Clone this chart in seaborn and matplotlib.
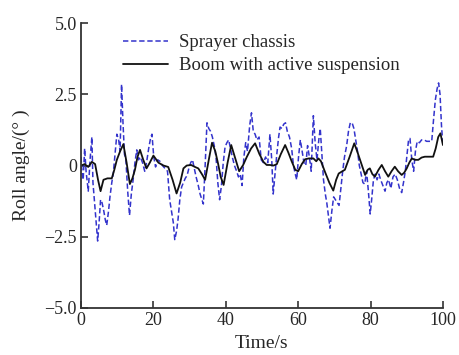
import matplotlib
matplotlib.use("Agg")
import matplotlib.pyplot as plt
import numpy as np
import pandas as pd
import seaborn as sns

# Sprayer chassis roll angle
chassis_t = [0, 0.3, 0.6, 1.0, 1.4, 2.0, 2.5, 3.0, 3.3, 3.8, 4.3, 4.6, 5.0, 5.4, 5.8,
             6.3, 6.7, 7.1, 7.6, 8.0, 8.5, 8.9, 9.4, 9.9, 10.4, 10.8, 11.2, 11.6, 12.0,
             12.4, 12.9, 13.4, 13.9, 14.4, 14.9, 15.4, 15.9, 16.4, 17.0, 17.6, 18.1,
             18.7, 19.2, 19.6, 20.1, 20.6, 21.2, 21.8, 22.5, 23.2, 23.9, 24.5, 25.0,
             25.5, 25.9, 26.4, 26.8, 27.3, 27.8, 28.3, 28.8, 29.3, 29.8, 30.3, 30.8,
             31.3, 31.8, 32.4, 32.9, 33.4, 33.8, 34.3, 34.8, 35.3, 35.8, 36.3, 36.8,
             37.3, 37.8, 38.3, 38.8, 39.3, 39.8, 40.3, 40.8, 41.3, 41.8, 42.4, 43.0,
             43.5, 44.0, 44.5, 45.0, 45.5, 46.0, 46.6, 47.1, 47.6, 48.1, 48.6, 49.2,
             49.8, 50.4, 51.0, 51.6, 52.2, 52.7, 53.1, 53.6, 54.1, 54.6, 55.0, 55.5,
             56.0, 56.5, 57.0, 57.6, 58.2, 58.7, 59.2, 59.6, 60.1, 60.6, 61.1, 61.6,
             62.1, 62.6, 63.1, 63.6, 64.2, 64.7, 65.2, 65.7, 66.1, 66.6, 67.0, 67.5,
             67.9, 68.4, 68.8, 69.3, 69.8, 70.3, 70.8, 71.3, 71.8, 72.3, 72.8, 73.4,
             73.9, 74.4, 74.9, 75.4, 75.9, 76.4, 76.9, 77.4, 77.9, 78.4, 78.9, 79.4,
             79.9, 80.3, 80.8, 81.3, 81.8, 82.3, 82.8, 83.4, 84.0, 84.5, 85.0, 85.6,
             86.2, 86.8, 87.4, 88.0, 88.6, 89.1, 89.6, 90.1, 90.5, 90.9, 91.4, 91.9,
             92.4, 92.9, 93.5, 94.1, 94.8, 95.5, 96.2, 96.9, 97.4, 97.9, 98.4, 98.8,
             99.2, 99.6, 100]
chassis_roll = [0.3, -0.3, -0.5, 0.6, -0.2, -0.9, 0.2, 1.0, -0.6, -1.4, -2.2, -2.65, -2.0,
                -1.2, -1.3, -1.6, -1.9, -2.1, -1.6, -1.1, -0.6, -0.3, 0.4, 1.1, 0.9, 0.5,
                2.85, 1.5, 0.4, 0.2, -0.9, -1.75, -1.0, -0.5, 0.1, 0.55, 0.2, 0.3, 0.1,
                -0.2, 0.1, 0.6, 0.95, 1.1, 0.3, -0.05, 0.2, 0.15, 0.0, -0.1, -0.2, -1.2,
                -1.6, -2.0, -2.6, -2.3, -1.9, -1.2, -0.75, -0.6, -0.45, -0.35, -0.1, 0.1,
                0.2, -0.1, -0.4, -0.7, -1.0, -1.2, -1.35, 0.0, 1.5, 1.3, 1.2, 1.0, 0.7,
                0.3, -0.6, -1.2, -0.7, 0.1, 0.65, 0.8, 0.9, 0.6, 0.3, 0.0, -0.2, -0.4,
                -0.3, -0.7, 0.3, 0.8, 0.5, 1.4, 1.85, 1.2, 1.1, 0.9, 1.0, 0.2, 0.1, 0.3,
                0.1, 1.1, 0.2, -1.0, -0.3, 0.4, 1.0, 1.35, 1.3, 1.45, 1.5, 1.2, 1.0, 0.6,
                0.0, -0.3, -0.5, 0.3, 0.9, 0.5, 0.1, 0.0, 0.7, 0.3, -0.2, 1.75, 0.8, 0.2,
                0.9, 1.3, 0.3, -0.5, -1.0, -1.3, -1.8, -2.2, -1.6, -1.1, -1.2, -1.3, -1.4,
                -0.8, -0.2, 0.3, 0.7, 1.2, 1.5, 1.5, 1.3, 0.9, 0.5, 0.0, -0.3, -0.6,
                -0.65, -0.2, -0.9, -1.7, -1.2, -0.5, -0.3, -0.5, -0.3, -0.5, -0.7, -0.9,
                -0.6, -0.5, -0.8, -0.4, -0.3, -0.5, -0.8, -0.95, -0.6, -0.2, 0.4, 0.9,
                0.95, 0.2, -0.2, 0.5, 0.85, 0.8, 0.9, 0.9, 0.85, 0.85, 0.85, 1.6, 2.3,
                2.7, 2.9, 2.5, 1.4, 0.7]

# Boom with active suspension roll angle
boom_t = [0, 1, 2, 3, 3.9, 4.7, 5.4, 6.2, 7.3, 8.5, 9.2, 9.9, 10.8, 11.7, 12.6, 13.5,
          14.2, 14.9, 15.6, 16.3, 17.2, 18.1, 19.0, 20.0, 21.4, 22.8, 24.1, 25.3, 26.4,
          27.4, 28.3, 29.2, 30.4, 31.5, 32.4, 33.4, 34.3, 35.3, 36.2, 37.1, 37.9, 38.6,
          39.4, 40.5, 41.5, 42.5, 43.7, 44.8, 45.8, 47.0, 48.1, 49.3, 50.4, 51.3, 52.2,
          53.2, 54.1, 55.2, 56.4, 57.3, 58.2, 59.2, 60.0, 61.0, 61.9, 63.0, 64.2, 65.0,
          65.6, 66.3, 67.4, 68.6, 69.7, 70.5, 71.2, 72.2, 72.9, 74.2, 75.5, 76.3, 77.1,
          78.5, 79.2, 79.8, 80.5, 81.2, 82.2, 83.1, 84.0, 84.9, 85.8, 86.7, 87.6, 88.6,
          89.3, 90.0, 90.7, 91.4, 92.3, 93.2, 94.1, 95.0, 96.2, 97.3, 98.0, 98.7, 99.3,
          99.7, 100]
boom_roll = [0.0, 0.05, -0.05, 0.13, 0.05, -0.5, -0.9, -0.5, -0.45, -0.45, -0.15, 0.2,
             0.5, 0.75, 0.1, -0.65, -0.45, -0.15, 0.3, 0.55, 0.2, -0.1, 0.1, 0.35, 0.1,
             0.0, -0.05, -0.5, -0.98, -0.6, -0.1, 0.0, 0.02, -0.05, -0.1, -0.3, -0.5,
             0.2, 0.8, 0.5, 0.05, -0.4, -0.68, 0.1, 0.72, 0.3, -0.2, 0.02, 0.3, 0.6,
             0.78, 0.4, 0.13, 0.02, 0.02, 0.0, 0.05, 0.4, 0.72, 0.45, 0.15, -0.15, -0.2,
             0.05, 0.22, 0.25, 0.25, 0.15, 0.25, 0.15, -0.22, -0.6, -0.88, -0.5, -0.28,
             -0.2, -0.15, 0.3, 0.78, 0.5, 0.2, -0.33, -0.15, -0.1, -0.3, -0.39, -0.15,
             0.02, -0.2, -0.39, -0.2, -0.04, -0.2, -0.33, -0.25, -0.1, 0.1, 0.25, 0.2,
             0.2, 0.28, 0.31, 0.31, 0.31, 0.6, 1.0, 1.13, 0.9, 0.72]

y_ticks = [-5.0, -2.5, 0, 2.5, 5.0]
y_tick_labels = ["\u22125.0", "\u22122.5", "0", "2.5", "5.0"]
x_ticks = [0, 20, 40, 60, 80, 100]

sns.set_style("ticks")
plt.rcParams["font.family"] = ["Liberation Serif", "DejaVu Serif"]
plt.rcParams["font.size"] = 13

fig = plt.figure(figsize=(4.59, 3.55), dpi=100)
ax = fig.add_axes([0.1765, 0.1324, 0.7885, 0.8026])

sns.lineplot(x=chassis_t, y=chassis_roll, ax=ax, color="#3333cc", lw=1.1,
             linestyle=(0, (3.5, 1.8)), label="Sprayer chassis")
sns.lineplot(x=boom_t, y=boom_roll, ax=ax, color="#111111", lw=1.3,
             label="Boom with active suspension")

ax.set_xlim(0, 100)
ax.set_ylim(-5, 5)
ax.set_xticks(x_ticks)
ax.set_yticks(y_ticks)
ax.set_yticklabels(y_tick_labels)
ax.set_xlabel("Time/s", fontsize=14, labelpad=4)
ax.set_ylabel("Roll angle/(\u00b0 )", fontsize=14, labelpad=10)
ax.tick_params(direction="in", length=5, width=1.2, labelsize=13, pad=3, color="#333333")
sns.despine(ax=ax)
for s in ("left", "bottom"):
    ax.spines[s].set_linewidth(1.3)
    ax.spines[s].set_color("#333333")

ax.legend(loc="upper left", bbox_to_anchor=(0.07, 1.02), frameon=False,
          handlelength=2.4, handletextpad=0.6, labelspacing=0.3, fontsize=13.5)

fig.savefig("out.png", dpi=100)
